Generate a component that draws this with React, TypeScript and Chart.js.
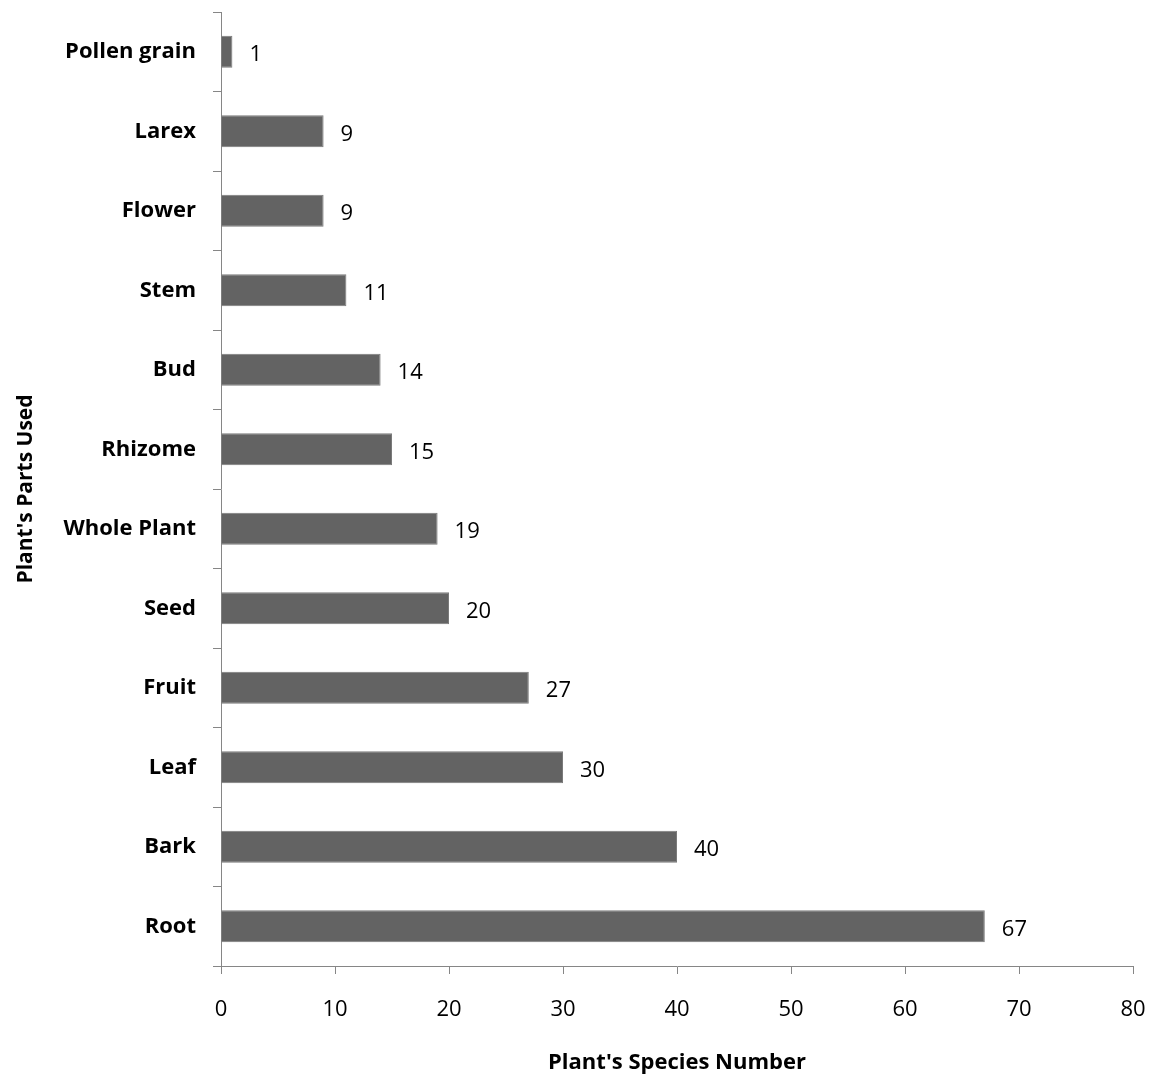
import React, { useEffect, useRef } from "react";
import { Chart, registerables } from "chart.js";

Chart.register(...registerables);

const categories = [
  "Pollen grain",
  "Larex",
  "Flower",
  "Stem",
  "Bud",
  "Rhizome",
  "Whole Plant",
  "Seed",
  "Fruit",
  "Leaf",
  "Bark",
  "Root",
];
const speciesCounts = [1, 9, 9, 11, 14, 15, 19, 20, 27, 30, 40, 67];
const xMin = 0;
const xMax = 80;
const xStep = 10;
const xTitle = "Plant's Species Number";
const yTitle = "Plant's Parts Used";

const FONT = "'Open Sans', Lato, 'DejaVu Sans', sans-serif";

const valueLabels = {
  id: "valueLabels",
  afterDatasetsDraw(chart: any) {
    const ctx = chart.ctx;
    const meta = chart.getDatasetMeta(0);
    const data = chart.data.datasets[0].data;
    ctx.save();
    ctx.fillStyle = "#000000";
    ctx.font = `22px ${FONT}`;
    ctx.textAlign = "left";
    ctx.textBaseline = "middle";
    meta.data.forEach((el: any, i: number) => {
      ctx.fillText(String(data[i]), el.x + 17, el.y + 3);
    });
    ctx.restore();
  },
};

export default function App() {
  const ref = useRef<HTMLCanvasElement | null>(null);
  useEffect(() => {
    document.body.style.margin = "0";
    if (!ref.current) return;
    const chart = new Chart(ref.current, {
      type: "bar",
      data: {
        labels: categories,
        datasets: [
          {
            data: speciesCounts,
            backgroundColor: "#636363",
            borderColor: "#7a7a7a",
            borderWidth: 1,
            categoryPercentage: 1,
            barPercentage: 0.4,
          },
        ],
      },
      options: {
        indexAxis: "y",
        responsive: false,
        animation: false,
        devicePixelRatio: 1,
        layout: { padding: { top: 12, right: 22, left: 0, bottom: 0 } },
        plugins: {
          legend: { display: false },
          tooltip: { enabled: false },
        },
        scales: {
          x: {
            type: "linear",
            min: xMin,
            max: xMax,
            afterFit: (s: any) => {
              s.height = 111;
              s.paddingLeft = 0;
              s.paddingRight = 0;
            },
            ticks: {
              stepSize: xStep,
              color: "#000000",
              font: { family: FONT, size: 22 },
              padding: 23,
            },
            grid: {
              drawOnChartArea: false,
              drawTicks: true,
              tickLength: 8,
              color: "#868686",
            },
            border: { color: "#868686", width: 1 },
            title: {
              display: true,
              text: xTitle,
              color: "#000000",
              font: { family: FONT, size: 22, weight: "bold" },
              padding: { top: 0, bottom: 1 },
            },
          },
          y: {
            type: "category",
            afterFit: (s: any) => {
              s.width = 221;
              s.paddingTop = 0;
              s.paddingBottom = 0;
            },
            ticks: {
              color: "#000000",
              font: { family: FONT, size: 22, weight: "bold" },
              padding: 17,
            },
            grid: {
              drawOnChartArea: false,
              drawTicks: true,
              tickLength: 8,
              offset: true,
              color: "#868686",
            },
            border: { color: "#868686", width: 1 },
            title: {
              display: true,
              text: yTitle,
              color: "#000000",
              font: { family: FONT, size: 21, weight: "bold" },
              padding: { top: 13, bottom: 0 },
            },
          },
        },
      },
      plugins: [valueLabels],
    });
    return () => chart.destroy();
  }, []);
  return (
    <div style={{ width: 1155, height: 1077, background: "#ffffff" }}>
      <canvas ref={ref} width={1155} height={1077} />
    </div>
  );
}
